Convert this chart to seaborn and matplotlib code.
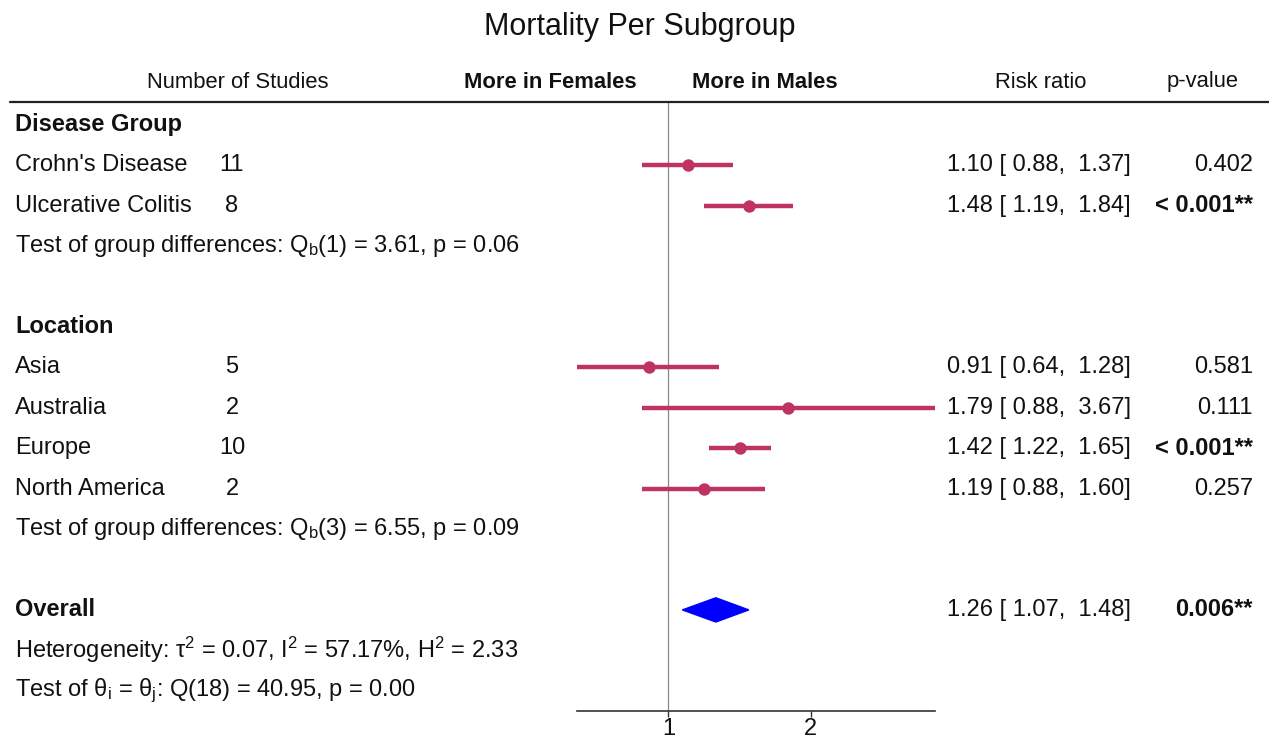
import numpy as np
import pandas as pd
import matplotlib
matplotlib.use("Agg")
import matplotlib.pyplot as plt
import matplotlib.transforms as mtransforms
from matplotlib.lines import Line2D
from matplotlib.patches import Polygon
import seaborn as sns

# subgroup rows (row index = line in the table)
labels = ["Crohn's Disease", "Ulcerative Colitis", "Asia", "Australia", "Europe", "North America"]
n_studies = [11, 8, 5, 2, 10, 2]
rows = [1, 2, 6, 7, 8, 9]
rr = [1.10, 1.48, 0.91, 1.79, 1.42, 1.19]
ci_lo = [0.88, 1.19, 0.64, 0.88, 1.22, 0.88]
ci_hi = [1.37, 1.84, 1.28, 3.67, 1.65, 1.60]
p_text = ["0.402", "< 0.001**", "0.581", "0.111", "< 0.001**", "0.257"]
p_bold = [False, True, False, False, True, False]

# overall estimate
overall_rr, overall_lo, overall_hi = 1.26, 1.07, 1.48
overall_p = "0.006**"

group_rows = {"Disease Group": 0, "Location": 5, "Overall": 12}
note_rows = {
    3: r"Test of group differences: Q$_{\rm b}$(1) = 3.61, p = 0.06",
    10: r"Test of group differences: Q$_{\rm b}$(3) = 6.55, p = 0.09",
    13: r"Heterogeneity: τ$^{\rm 2}$ = 0.07, I$^{\rm 2}$ = 57.17%, H$^{\rm 2}$ = 2.33",
    14: r"Test of θ$_{\rm i}$ = θ$_{\rm j}$: Q(18) = 40.95, p = 0.00",
}

df = pd.DataFrame({"label": labels, "n": n_studies, "row": rows, "rr": rr,
                   "lo": ci_lo, "hi": ci_hi})

W, H = 1269, 742
sns.set_theme(style="white")
plt.rcParams["font.family"] = ["Liberation Sans", "DejaVu Sans"]
plt.rcParams["mathtext.fontset"] = "custom"
plt.rcParams["mathtext.rm"] = "Liberation Sans"
plt.rcParams["mathtext.it"] = "Liberation Sans:italic"
plt.rcParams["mathtext.bf"] = "Liberation Sans:bold"

fs = 17
hfs = 15.8
red = "#BE3264"

fig = plt.figure(figsize=(W / 100, H / 100), dpi=100)
fig.patch.set_facecolor("white")
ax = fig.add_axes([577 / W, 1 - 711 / H, 358 / W, 609 / H])

ax.hlines(df["row"], df["lo"], df["hi"], color=red, lw=3.2, zorder=3)
sns.scatterplot(data=df, x="rr", y="row", color=red, s=80, edgecolor=red,
                linewidth=0, ax=ax, zorder=4, legend=False)

# overall diamond
d = 0.3
ax.add_patch(Polygon([[overall_lo, 12], [overall_rr, 12 - d], [overall_hi, 12],
                      [overall_rr, 12 + d]], closed=True, color="#0000FF", zorder=4))

ax.axvline(1, color="#888888", lw=0.9, zorder=1)
ax.set_xscale("log")
ax.set_xlim(0.64, 3.67)
ax.set_ylim(14.5, -0.56)
ax.set_xticks([1, 2])
ax.set_xticklabels(["1", "2"], fontsize=fs)
ax.xaxis.set_minor_locator(matplotlib.ticker.NullLocator())
ax.set_yticks([])
ax.set_xlabel("")
ax.set_ylabel("")
for side in ["top", "left", "right"]:
    ax.spines[side].set_visible(False)
ax.spines["bottom"].set_color("#333333")
ax.spines["bottom"].set_linewidth(1.2)
ax.tick_params(axis="x", direction="out", length=4, width=1, color="#333333",
               pad=1, bottom=True, labelcolor="#111111")
ax.set_facecolor("none")

tr = mtransforms.blended_transform_factory(fig.transFigure, ax.transData)


def put(xpx, row, s, ha="left", bold=False):
    ax.text(xpx / W, row, s, transform=tr, ha=ha, va="center", fontsize=fs,
            fontweight="bold" if bold else "normal", color="#111111", clip_on=False)


for name, r in group_rows.items():
    put(15, r, name, bold=True)

for _, row in df.iterrows():
    put(15, row["row"], row["label"])
    put(232, row["row"], str(row["n"]), ha="center")
    put(1131, row["row"], f"{row['rr']:.2f} [ {row['lo']:.2f},  {row['hi']:.2f}]", ha="right")

for r, s, b in zip(rows, p_text, p_bold):
    put(1253, r, s, ha="right", bold=b)

put(1131, 12, f"{overall_rr:.2f} [ {overall_lo:.2f},  {overall_hi:.2f}]", ha="right")
put(1253, 12, overall_p, ha="right", bold=True)

for r, s in note_rows.items():
    put(15, r, s)

# header
hy = 1 - 82 / H
fig.text(238 / W, hy, "Number of Studies", ha="center", va="center", fontsize=hfs, color="#111111")
fig.text(637 / W, hy, "More in Females", ha="right", va="center", fontsize=hfs,
         fontweight="bold", color="#111111")
fig.text(692 / W, hy, "More in Males", ha="left", va="center", fontsize=hfs,
         fontweight="bold", color="#111111")
fig.text(1041 / W, hy, "Risk ratio", ha="center", va="center", fontsize=hfs, color="#111111")
fig.text(1203 / W, hy, "p-value", ha="center", va="center", fontsize=hfs, color="#111111")
fig.add_artist(Line2D([10 / W, 1], [1 - 102 / H, 1 - 102 / H], color="#222222", lw=1.6))

fig.text(640 / W, 1 - 27 / H, "Mortality Per Subgroup", ha="center", va="center",
         fontsize=22, color="#111111")

fig.savefig("out.png", dpi=100)
